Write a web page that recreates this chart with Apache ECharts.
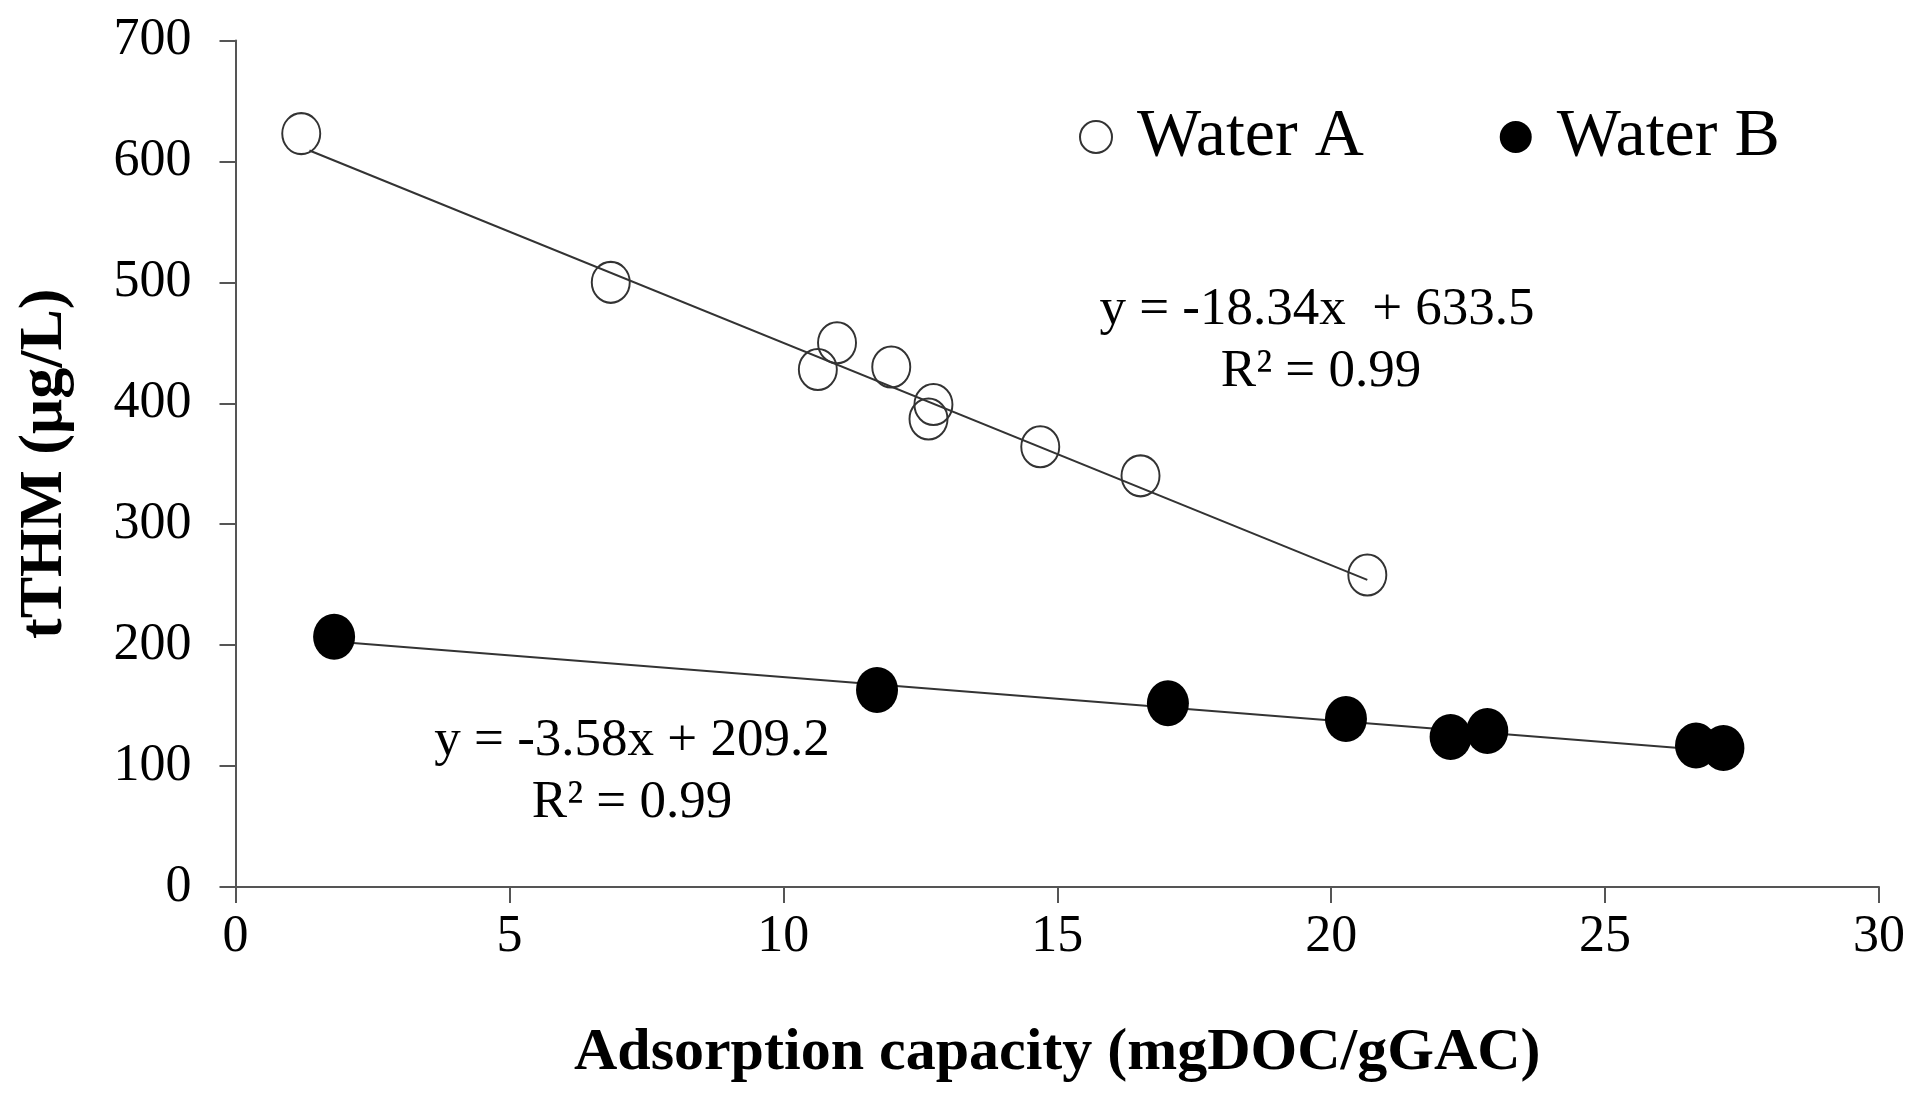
<!DOCTYPE html>
<html>
<head>
<meta charset="utf-8">
<script src="https://cdn.jsdelivr.net/npm/echarts@6/dist/echarts.min.js"></script>
<style>
html,body{margin:0;padding:0;background:#fff;}
#chart{width:1923px;height:1095px;}
</style>
</head>
<body>
<div id="chart"></div>
<script>
// Data
var waterAX = [1.2, 6.85, 10.63, 10.98, 11.97, 12.65, 12.74, 14.69, 16.52, 20.66];
var waterAY = [623, 500, 428, 450, 430, 387, 399, 364, 340, 258];
var waterBX = [1.8, 11.71, 17.02, 20.27, 22.18, 22.85, 26.66, 27.16];
var waterBY = [207, 163, 152, 139, 124, 129, 117, 115];
var trendAX = [1.35, 20.66];
var trendAY = [609, 254];
var trendBX = [1.8, 27.16];
var trendBY = [203, 112];
var xTicks = [0, 5, 10, 15, 20, 25, 30];
var yTicks = [0, 100, 200, 300, 400, 500, 600, 700];
var seriesNames = ['Water A', 'Water B'];
var eqA = ['y = -18.34x  + 633.5', 'R\u00B2 = 0.99'];
var eqB = ['y = -3.58x + 209.2', 'R\u00B2 = 0.99'];

function zip(xs, ys){ return xs.map(function(x,i){ return [x, ys[i]]; }); }

var FONT = '"Liberation Serif", "Times New Roman", serif';
var chart = echarts.init(document.getElementById('chart'), null, {renderer:'canvas'});
function eqText(t, x, y){
  return {type: 'text', x: x, y: y, style: {text: t, fontFamily: FONT, fontSize: 53, fill: '#000', align: 'center', verticalAlign: 'middle'}};
}
var option = {
  backgroundColor: '#ffffff',
  animation: false,
  textStyle: {fontFamily: FONT, color: '#000'},
  grid: {left: 235.5, right: 44, top: 40.5, bottom: 208, containLabel: false, outerBoundsMode: 'none'},
  legend: {
    data: seriesNames,
    left: 1074, top: 97,
    icon: 'circle',
    itemWidth: 32, itemHeight: 34,
    itemGap: 136,
    textStyle: {fontFamily: FONT, fontSize: 68, color: '#000', lineHeight: 70, padding: [0,0,0,20]}
  },
  xAxis: {
    type: 'value', min: xTicks[0], max: xTicks[xTicks.length-1], interval: 5,
    name: 'Adsorption capacity (mgDOC/gGAC)',
    nameLocation: 'middle', nameGap: 136, nameMoveOverlap: false,
    nameTextStyle: {fontFamily: FONT, fontSize: 60, fontWeight: 'bold', color: '#000'},
    axisLine: {show: true, onZero: false, lineStyle: {color: '#555', width: 2}},
    axisTick: {show: true, inside: false, length: 16, lineStyle: {color: '#555', width: 2}},
    axisLabel: {fontFamily: FONT, fontSize: 52, color: '#000', margin: 24},
    splitLine: {show: false}
  },
  yAxis: {
    type: 'value', min: yTicks[0], max: yTicks[yTicks.length-1], interval: 100,
    name: 'tTHM (\u03BCg/L)',
    nameLocation: 'middle', nameGap: 160, nameMoveOverlap: false,
    nameTextStyle: {fontFamily: FONT, fontSize: 62, fontWeight: 'bold', color: '#000'},
    axisLine: {show: true, onZero: false, lineStyle: {color: '#555', width: 2}},
    axisTick: {show: true, inside: false, length: 16, lineStyle: {color: '#555', width: 2}},
    axisLabel: {fontFamily: FONT, fontSize: 52, color: '#000', margin: 44},
    splitLine: {show: false}
  },
  series: [
    {
      name: 'trendA', type: 'line', data: zip(trendAX, trendAY),
      showSymbol: false, symbol: 'none', z: 2, silent: true,
      lineStyle: {color: '#333', width: 2}
    },
    {
      name: 'trendB', type: 'line', data: zip(trendBX, trendBY),
      showSymbol: false, symbol: 'none', z: 2, silent: true,
      lineStyle: {color: '#333', width: 2}
    },
    {
      name: seriesNames[0], type: 'scatter', data: zip(waterAX, waterAY),
      symbol: 'circle', symbolSize: [38, 41], z: 3,
      itemStyle: {color: 'rgba(255,255,255,0)', borderColor: '#333', borderWidth: 2, opacity: 1}
    },
    {
      name: seriesNames[1], type: 'scatter', data: zip(waterBX, waterBY),
      symbol: 'circle', symbolSize: [42, 46], z: 3,
      itemStyle: {color: '#000', borderColor: '#000', borderWidth: 0, opacity: 1}
    }
  ],
  graphic: [
    eqText(eqA[0], 1317, 310),
    eqText(eqA[1], 1321, 372),
    eqText(eqB[0], 632, 741),
    eqText(eqB[1], 632, 803)
  ]
};
chart.setOption(option);
</script>
</body>
</html>
